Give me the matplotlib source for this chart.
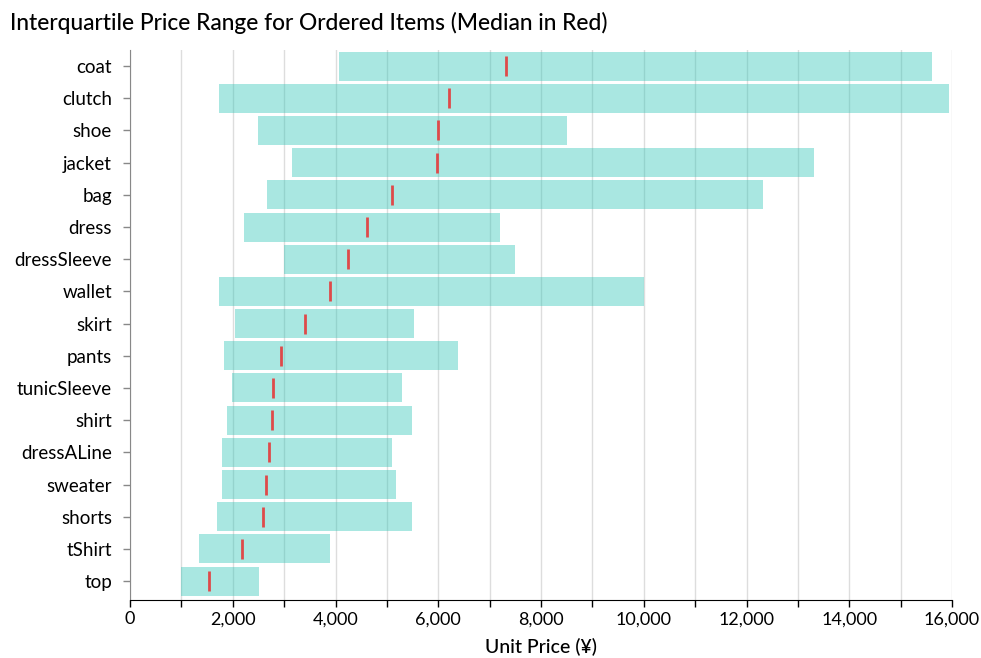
import numpy as np
import matplotlib.pyplot as plt
from matplotlib.ticker import MultipleLocator, FuncFormatter

plt.rcParams['font.family'] = ['Lato', 'DejaVu Sans']

# data
items = ['coat', 'clutch', 'shoe', 'jacket', 'bag', 'dress', 'dressSleeve',
         'wallet', 'skirt', 'pants', 'tunicSleeve', 'shirt', 'dressALine',
         'sweater', 'shorts', 'tShirt', 'top']
q1 = [4070, 1740, 2500, 3150, 2660, 2220, 2990, 1740, 2050, 1835, 1990,
      1890, 1790, 1790, 1700, 1345, 1000]
q3 = [15610, 15940, 8510, 13310, 12320, 7200, 7490, 10000, 5530, 6390, 5290,
      5490, 5100, 5180, 5490, 3890, 2520]
median = [7320, 6210, 6000, 5980, 5100, 4615, 4250, 3895, 3410, 2940, 2790,
          2755, 2715, 2640, 2580, 2185, 1545]

fig = plt.figure(figsize=(9.81, 6.58), dpi=100)
ax = fig.add_axes([0.1325, 0.088, 0.838, 0.836])

y = np.arange(len(items))
widths = np.array(q3) - np.array(q1)
ax.barh(y, widths, left=q1, height=0.9, color='#2ac5b6', alpha=0.4, zorder=2)
ax.plot(median, y, linestyle='none', marker='|', markersize=15,
        markeredgewidth=2.0, color='#de4a4a', zorder=3)

ax.set_ylim(len(items) - 0.41, -0.5)
ax.set_xlim(0, 16000)
ax.set_yticks(y)
ax.set_yticklabels(items, fontsize=13.5)

ax.xaxis.set_major_locator(MultipleLocator(2000))
ax.xaxis.set_minor_locator(MultipleLocator(1000))
ax.xaxis.set_major_formatter(FuncFormatter(lambda v, p: f'{int(v):,}'))
ax.tick_params(axis='x', which='both', length=5, width=1, labelsize=13, pad=3)
ax.tick_params(axis='y', length=5, width=1, color='#888888', pad=8)
ax.grid(axis='x', which='both', color='#dddddd', linewidth=1, zorder=0)
ax.set_axisbelow(True)

for s in ['top', 'right']:
    ax.spines[s].set_visible(False)
ax.spines['left'].set_color('#888888')
ax.spines['bottom'].set_color('black')

ax.set_xlabel('Unit Price (¥)', fontsize=14, fontweight='medium', labelpad=8)
fig.text(0.01, 0.965, 'Interquartile Price Range for Ordered Items (Median in Red)',
         fontsize=16.4, fontweight='medium', va='center', ha='left')

plt.savefig('out.png', dpi=100)
